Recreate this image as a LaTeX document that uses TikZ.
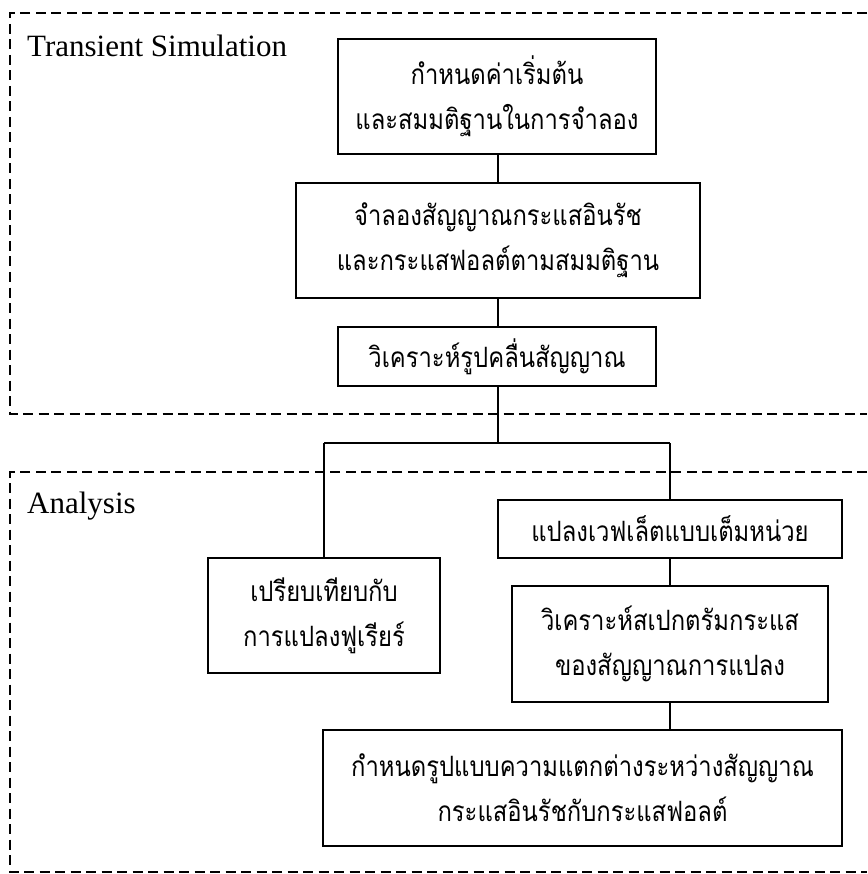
\documentclass[tikz,border=0pt]{standalone}
\usepackage{fontspec}
\setmainfont{Liberation Serif}
\newfontfamily\thaifont[Script=Thai, FakeStretch=0.85]{Loma}
\begin{document}
\begin{tikzpicture}[x=1pt,y=-1pt,
  stepbox/.style={draw, line width=1.5pt, align=center, inner sep=0pt,
    font=\thaifont\fontsize{28}{45}\selectfont},
  link/.style={line width=1.2pt},
  groupframe/.style={line width=1.8pt, dash pattern=on 10pt off 5.5pt},
  grouptitle/.style={anchor=base west, inner sep=0pt, font=\fontsize{31}{33}\selectfont}]
\useasboundingbox (0,0) rectangle (867,874);

% group frames (open on the right side)
\draw[groupframe] (867,13) -- (10,13) -- (10,414) -- (867,414);
\draw[groupframe] (867,472) -- (10,472) -- (10,872) -- (867,872);

\node[grouptitle] (tsim) at (27,57) {Transient Simulation};
\node[grouptitle] (anal) at (27,513) {Analysis};

% simulation steps
\node[stepbox, minimum width=318pt, minimum height=115pt] (init) at (497,96.5)
  {กำหนดค่าเริ่มต้น\\และสมมติฐานในการจำลอง};
\node[stepbox, minimum width=404pt, minimum height=115pt] (sim) at (498,240.5)
  {จำลองสัญญาณกระแสอินรัช\\และกระแสฟอลต์ตามสมมติฐาน};
\node[stepbox, minimum width=318pt, minimum height=59pt] (wave) at (497,356.5)
  {วิเคราะห์รูปคลื่นสัญญาณ};

% analysis steps
\node[stepbox, minimum width=344pt, minimum height=58pt] (cwt) at (670,529)
  {แปลงเวฟเล็ตแบบเต็มหน่วย};
\node[stepbox, minimum width=232pt, minimum height=115pt] (fft) at (324,615.5)
  {เปรียบเทียบกับ\\การแปลงฟูเรียร์};
\node[stepbox, minimum width=316pt, minimum height=116pt] (spec) at (670,644)
  {วิเคราะห์สเปกตรัมกระแส\\ของสัญญาณการแปลง};
\node[stepbox, minimum width=519pt, minimum height=116pt] (diff) at (582.5,788)
  {กำหนดรูปแบบความแตกต่างระหว่างสัญญาณ\\กระแสอินรัชกับกระแสฟอลต์};

% connectors
\coordinate (split) at (498,443);
\coordinate (lsplit) at (fft.north |- split);
\coordinate (rsplit) at (cwt.north |- split);
\draw[link] (init.south -| sim.north) -- (sim.north);
\draw[link] (sim.south) -- (sim.south |- wave.north);
\draw[link] (wave.south -| split) -- (split);
\draw[link] (lsplit) -- (rsplit);
\draw[link] (lsplit) -- (fft.north);
\draw[link] (rsplit) -- (cwt.north);
\draw[link] (cwt.south) -- (spec.north);
\draw[link] (spec.south) -- (spec.south |- diff.north);
\end{tikzpicture}
\end{document}
